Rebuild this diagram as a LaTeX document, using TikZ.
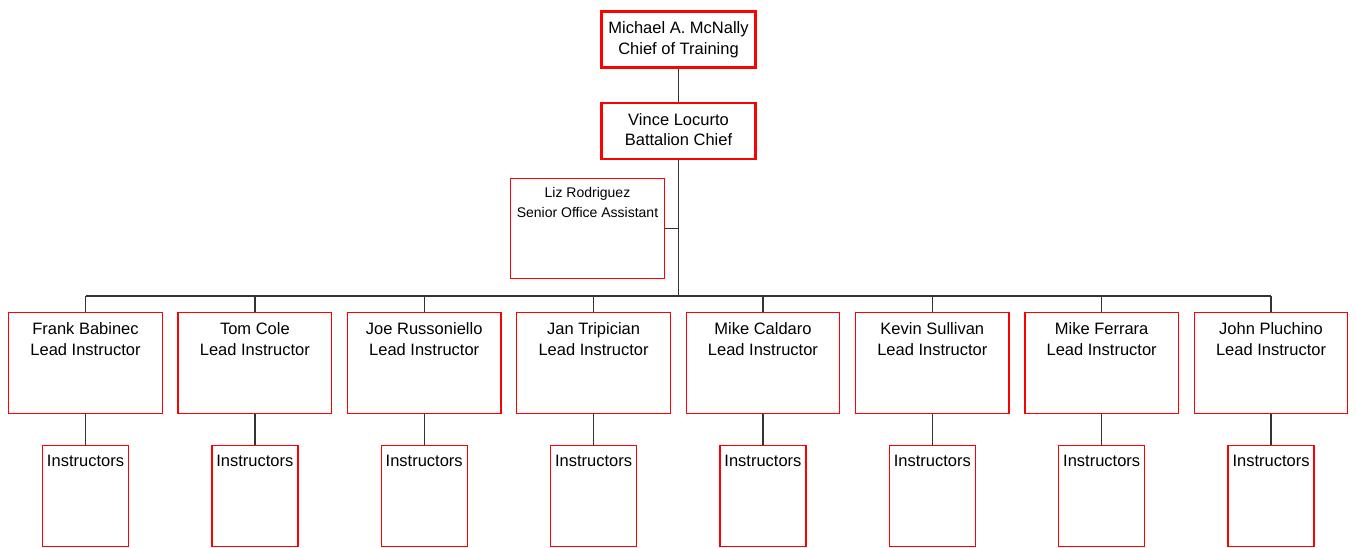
\documentclass[tikz,border=0pt]{standalone}
\usepackage{fontspec}
\setmainfont{Liberation Sans}
\usepackage{tikz}

\begin{document}
\begin{tikzpicture}
        [x=1pt,y=-1pt,every node/.style={align=center,font=\fontsize{16.5}{21}\selectfont}]
        \useasboundingbox (0,0) rectangle (1356,548);
        \tikzset{HeadStyle/.style = {draw          = red,
                                     line width    = 2.6pt,
                                     minimum width = 154pt,
                                     minimum height= 56pt},
                 BoxStyle/.style  = {draw          = red,
                                     line width    = 1.3pt,
                                     minimum width = 153.5pt,
                                     minimum height= 100.5pt},
                 InstStyle/.style = {BoxStyle,
                                     minimum width = 86pt},
                 TextStyle/.style = {anchor=north, inner sep=0pt, yshift=-10pt},
                 LinkStyle/.style = {draw=black!80, line width=1.3pt}}
        \node[HeadStyle,label={[TextStyle,yshift=-1.5pt]north:Michael A. McNally\\Chief of Training}]
            (McNally) at (678.5,39.5) {};
        \node[HeadStyle,label={[TextStyle,yshift=-1.5pt,font=\fontsize{16.5}{20}\selectfont]north:Vince Locurto\\Battalion Chief}]
            (Locurto) at (678.5,131.2) {};
        \node[BoxStyle,label={[TextStyle,font=\fontsize{14}{19.5}\selectfont]north:Liz Rodriguez\\Senior Office Assistant}]
            (Rodriguez) at (587.5,228.5) {};
        \coordinate (Bus) at (678.5,296);
        \draw[LinkStyle] (McNally) -- (Locurto);
        \draw[LinkStyle] (Locurto) -- (Bus);
        \draw[LinkStyle] (Rodriguez.east) -- (Rodriguez.east -| Bus);
        \foreach \name/\person [count=\i from 0] in {Babinec/Frank Babinec, Cole/Tom Cole,
                 Russoniello/Joe Russoniello, Tripician/Jan Tripician, Caldaro/Mike Caldaro,
                 Sullivan/Kevin Sullivan, Ferrara/Mike Ferrara, Pluchino/John Pluchino}
        {
            \node[BoxStyle,label={[TextStyle]north:\person\\Lead Instructor}]
                (\name) at (85.5+169.36*\i,363) {};
            \node[InstStyle,label={[TextStyle]north:Instructors}]
                (\name Inst) at (85.5+169.36*\i,496) {};
            \draw[LinkStyle] (\name.north) -- (\name.north |- Bus);
            \draw[LinkStyle] (\name) -- (\name Inst);
        }
        \draw[LinkStyle] (Babinec.north |- Bus) -- (Pluchino.north |- Bus);
    \end{tikzpicture}
\end{document}
